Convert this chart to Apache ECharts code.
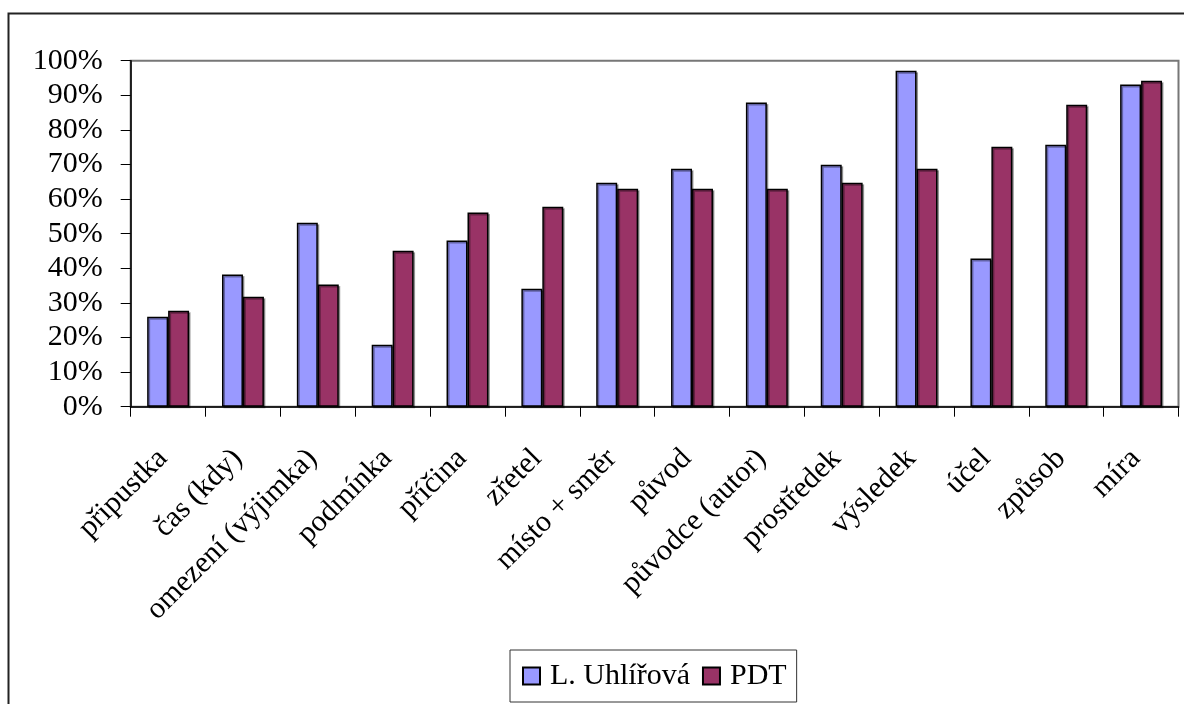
<!DOCTYPE html>
<html>
<head>
<meta charset="utf-8">
<style>
  html, body { margin: 0; padding: 0; background: #fff; }
  #chart { width: 1184px; height: 704px; }
</style>
<script src="https://cdn.jsdelivr.net/npm/echarts@6/dist/echarts.min.js"></script>
</head>
<body>
<div id="chart"></div>
<script>
// Categories of adverbial meaning
const categories = ['připustka', 'čas (kdy)', 'omezení (výjimka)', 'podmínka', 'příčina', 'zřetel',
  'místo + směr', 'původ', 'původce (autor)', 'prostředek', 'výsledek', 'účel', 'způsob', 'míra'];

// Shares in percent
const uhlirova = [26, 38.2, 53.2, 17.9, 48, 34.1, 64.7, 68.8, 87.9, 69.9, 97.1, 42.8, 75.7, 93.1];
const pdt = [27.7, 31.8, 35.3, 45.1, 56.1, 57.8, 63, 63, 63, 64.7, 68.8, 75.1, 87.3, 94.2];

const seriesNames = ['L. Uhlířová', 'PDT'];
const yTicks = { min: 0, max: 100, step: 10 };

const FONT = '"Liberation Serif", "Times New Roman", serif';

const chart = echarts.init(document.getElementById('chart'), null, { renderer: 'canvas' });

const barStyle = (color) => ({
  color: color,
  borderColor: '#000',
  borderWidth: 1.5,
  shadowColor: 'rgba(0,0,0,0.35)',
  shadowOffsetX: 1.5,
  shadowOffsetY: 1.5,
  shadowBlur: 0
});

chart.setOption({
  animation: false,
  backgroundColor: '#fff',
  textStyle: { fontFamily: FONT },
  graphic: [{
    type: 'rect',
    shape: { x: 8.5, y: 13.5, width: 1300, height: 900 },
    style: { fill: 'none', stroke: '#222', lineWidth: 2 },
    silent: true,
    z: -1
  }],
  grid: {
    left: 130.7,
    right: 5.5,
    top: 60.7,
    bottom: 297.3,
    show: true,
    borderColor: '#777',
    borderWidth: 2,
    backgroundColor: 'transparent'
  },
  legend: {
    data: seriesNames,
    left: 510,
    top: 650,
    orient: 'horizontal',
    icon: 'rect',
    itemWidth: 17,
    itemHeight: 17,
    itemGap: 12,
    padding: [11, 10, 11, 12],
    borderColor: '#333',
    borderWidth: 1,
    textStyle: { fontFamily: FONT, fontSize: 30, color: '#000', padding: [0, 0, 0, 5] }
  },
  xAxis: {
    type: 'category',
    data: categories,
    axisLine: { lineStyle: { color: '#000', width: 1.5 } },
    axisTick: { show: true, length: 10, lineStyle: { color: '#000', width: 1 } },
    axisLabel: {
      interval: 0,
      rotate: 45,
      margin: 42,
      formatter: (v) => v + ' ',
      fontFamily: FONT,
      fontSize: 30,
      color: '#000'
    },
    splitLine: { show: false }
  },
  yAxis: {
    type: 'value',
    min: yTicks.min,
    max: yTicks.max,
    interval: yTicks.step,
    axisLine: { show: true, lineStyle: { color: '#000', width: 1.5 } },
    axisTick: { show: true, length: 10, lineStyle: { color: '#000', width: 1 } },
    axisLabel: {
      formatter: '{value}%',
      margin: 28,
      fontFamily: FONT,
      fontSize: 30,
      color: '#000'
    },
    splitLine: { show: false }
  },
  series: [
    {
      name: seriesNames[0],
      type: 'bar',
      data: uhlirova,
      barGap: '0%',
      barCategoryGap: '44%',
      itemStyle: barStyle('#9999FF')
    },
    {
      name: seriesNames[1],
      type: 'bar',
      data: pdt,
      barGap: '0%',
      barCategoryGap: '44%',
      itemStyle: barStyle('#993366')
    }
  ]
});
</script>
</body>
</html>
